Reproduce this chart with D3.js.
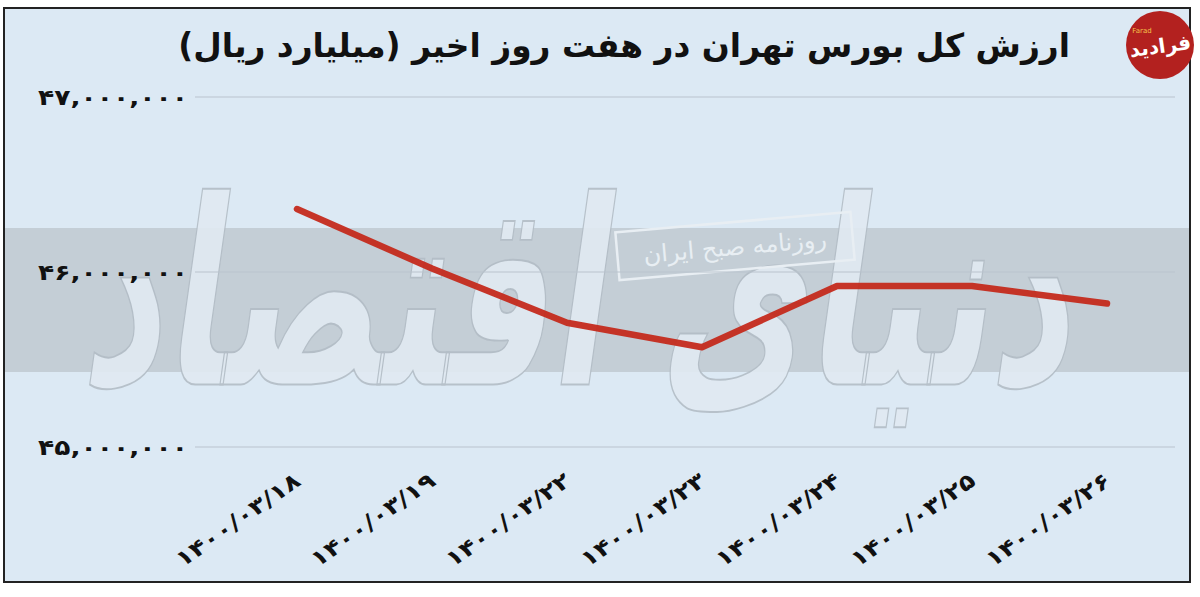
<!DOCTYPE html>
<html><head><meta charset="utf-8">
<script src="https://cdn.jsdelivr.net/npm/d3@7"></script>
<style>html,body{margin:0;padding:0;background:#fff;}svg{display:block;}</style>
</head><body>
<svg id="c" width="1200" height="597"></svg>
<script>
const title = "ارزش کل بورس تهران در هفت روز اخیر (میلیارد ریال)";
const dates = ["۱۴۰۰/۰۳/۱۸","۱۴۰۰/۰۳/۱۹","۱۴۰۰/۰۳/۲۲","۱۴۰۰/۰۳/۲۳","۱۴۰۰/۰۳/۲۴","۱۴۰۰/۰۳/۲۵","۱۴۰۰/۰۳/۲۶"];
const values = [46360000, 46020000, 45710000, 45570000, 45920000, 45920000, 45820000];
const yTicks = [45000000, 46000000, 47000000];
const yTickLabels = ["۴۵,۰۰۰,۰۰۰","۴۶,۰۰۰,۰۰۰","۴۷,۰۰۰,۰۰۰"];
const watermark = "دنیای اقتصاد";
const stamp = "روزنامه صبح ایران";
const logo = "فرادید";

const svg = d3.select("#c");
const x = d3.scalePoint().domain(dates).range([297, 1107]).padding(0);
const y = d3.scaleLinear().domain([45000000, 47000000]).range([447, 97]);

// frame
svg.append("rect").attr("x",4).attr("y",8).attr("width",1186).attr("height",574)
  .attr("fill","#dce9f4").attr("stroke","#222").attr("stroke-width",2);

// band
svg.append("rect").attr("x",5).attr("y",228).attr("width",1184).attr("height",144).attr("fill","#c4ced6");

// watermark
const wm = svg.append("text").attr("x",0).attr("y",0)
  .attr("font-family","DejaVu Sans").attr("font-weight","bold").attr("font-size",200)
  .attr("direction","rtl").attr("text-anchor","start")
  .attr("fill","#e1eaf2").attr("stroke","#b3bdc6").attr("stroke-width",1).attr("opacity",0.9)
  .text(watermark);
{
  const bb = wm.node().getBBox();
  const sx = 990/bb.width, sy = 300/bb.height;
  wm.attr("transform",`translate(${85 - bb.x*sx - 5},${145 - bb.y*sy}) skewX(-8) scale(${sx},${sy})`)
    .attr("stroke-width",1.2/Math.min(sx,sy));
}

// stamp
const st = svg.append("g").attr("transform","translate(735,246) rotate(-5)");
st.append("rect").attr("x",-118).attr("y",-24).attr("width",236).attr("height",48)
  .attr("fill","none").attr("stroke","#e8eef3").attr("stroke-width",2.5);
st.append("text").attr("x",0).attr("y",9).attr("text-anchor","middle")
  .attr("font-family","DejaVu Sans").attr("font-size",24).attr("fill","#e8eef3").text(stamp);

// grid
svg.append("g").selectAll("line").data(yTicks).join("line")
  .attr("x1",195).attr("x2",1175).attr("y1",d=>y(d)).attr("y2",d=>y(d))
  .attr("stroke","#b9c4cd").attr("stroke-width",1.2);

// y labels
svg.append("g").selectAll("text").data(yTicks).join("text")
  .attr("x",188).attr("y",d=>y(d)+8).attr("text-anchor","end").attr("direction","ltr")
  .attr("font-family","DejaVu Sans").attr("font-weight","bold").attr("font-size",22)
  .attr("fill","#111").text((d,i)=>yTickLabels[i])
  .each(function(){this.setAttribute("textLength",150);this.setAttribute("lengthAdjust","spacingAndGlyphs");});

// x labels
svg.append("g").selectAll("text").data(dates).join("text")
  .attr("transform",d=>`translate(${x(d)+5},${484}) rotate(-35)`)
  .attr("text-anchor","end").attr("direction","ltr")
  .attr("font-family","DejaVu Sans").attr("font-weight","bold").attr("font-size",22)
  .attr("fill","#111").text(d=>d)
  .each(function(){this.setAttribute("textLength",146);this.setAttribute("lengthAdjust","spacingAndGlyphs");});

// line
svg.append("path").datum(values.map((v,i)=>[dates[i],v]))
  .attr("fill","none").attr("stroke","#c42a1c").attr("stroke-width",6.5)
  .attr("stroke-linecap","round").attr("stroke-linejoin","round").attr("opacity",0.95)
  .attr("d", d3.line().x(d=>x(d[0])).y(d=>y(d[1])));

// title
const t = svg.append("text").attr("x",1070).attr("y",57).attr("text-anchor","start")
  .attr("direction","rtl").attr("font-family","DejaVu Sans").attr("font-weight","bold")
  .attr("font-size",26).attr("fill","#111").text(title);
{
  const w = t.node().getComputedTextLength();
  if (w>0) t.attr("font-size", 26*892/w);
}

// logo
const lg = svg.append("g").attr("transform","translate(1160,45)");
lg.append("circle").attr("r",34).attr("fill","#b3211f");
lg.append("text").attr("x",0).attr("y",8).attr("text-anchor","middle")
  .attr("font-family","DejaVu Sans").attr("font-weight","bold").attr("font-size",20)
  .attr("fill","#fff").attr("transform","rotate(-8)").text(logo);
lg.append("text").attr("x",-18).attr("y",-12).attr("text-anchor","middle")
  .attr("font-family","DejaVu Sans").attr("font-size",7)
  .attr("fill","#f3c24a").text("Farad");
</script>
</body></html>
